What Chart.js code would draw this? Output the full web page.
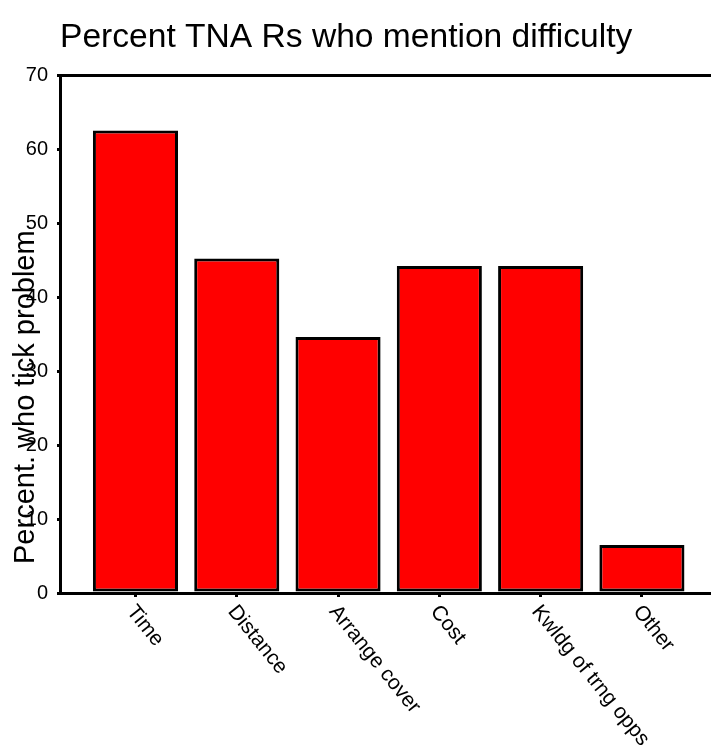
<!DOCTYPE html>
<html>
<head>
<meta charset="utf-8">
<script src="https://cdn.jsdelivr.net/npm/chart.js@4/dist/chart.umd.min.js"></script>
<style>
    html, body { margin: 0; padding: 0; background: #fff; }
    #wrap { width: 711px; height: 749px; }
</style>
</head>
<body>
<div id="wrap"><canvas id="difficultyChart"></canvas></div>
<script>
const categories = ['Time', 'Distance', 'Arrange cover', 'Cost', 'Kwldg of trng opps', 'Other']
const percentValues = [62.5, 45.2, 34.6, 44.2, 44.2, 6.5]
const yTicks = [0, 10, 20, 30, 40, 50, 60, 70]

const chartTitle = 'Percent TNA Rs who mention difficulty'
const yAxisTitle = 'Percent. who tick problem'

const FONT = '"Liberation Sans", Arial, sans-serif'

// slanted category labels, reading down-right from each tick
const slantLabels = {
    id: 'slantLabels',
    afterDraw(chart) {
        const scale = chart.scales.x
        const ctx = chart.ctx
        ctx.save()
        ctx.fillStyle = '#000'
        ctx.font = '21px ' + FONT
        ctx.textAlign = 'left'
        ctx.textBaseline = 'middle'
        categories.forEach((label, i) => {
            const x = scale.getPixelForValue(i)
            ctx.save()
            ctx.translate(x - 5, scale.top + 15)
            ctx.rotate(51 * Math.PI / 180)
            ctx.fillText(label, 0, 0)
            ctx.restore()
        })
        ctx.restore()
    }
}

// title is left-ish over the plot, y title sits low over the tick labels
const titles = {
    id: 'titles',
    afterDraw(chart) {
        const ctx = chart.ctx
        const area = chart.chartArea
        ctx.save()
        ctx.fillStyle = '#000'
        ctx.textAlign = 'left'
        ctx.textBaseline = 'alphabetic'

        ctx.font = '33.6px ' + FONT
        ctx.fillText(chartTitle, area.left, 47)

        ctx.font = '29px ' + FONT
        ctx.translate(34, area.bottom - 29)
        ctx.rotate(-Math.PI / 2)
        ctx.fillText(yAxisTitle, 0, 0)
        ctx.restore()
    }
}

const ctx = document.getElementById('difficultyChart').getContext('2d')
new Chart(ctx, {
    type: 'bar',
    data: {
        datasets: [{
            data: categories.map((c, i) => ({ x: i, y: percentValues[i] })),
            backgroundColor: '#ff0000',
            borderColor: '#000',
            borderWidth: 3,
            borderSkipped: false,
            categoryPercentage: 1,
            barPercentage: 0.84
        }]
    },
    options: {
        responsive: true,
        maintainAspectRatio: false,
        animation: false,
        layout: { padding: { top: 75, left: 0, right: 0, bottom: 0 } },
        plugins: {
            legend: { display: false },
            tooltip: { enabled: false },
            title: { display: false }
        },
        scales: {
            x: {
                type: 'linear',
                position: 'bottom',
                offset: false,
                min: -0.745,
                max: 5.682,
                afterFit(scale) { scale.height = 156 },
                afterBuildTicks(scale) { scale.ticks = categories.map((c, i) => ({ value: i })) },
                ticks: { display: false },
                grid: { offset: false, drawOnChartArea: false, tickLength: 4, lineWidth: 3, color: '#000' },
                border: { color: '#000', width: 3 }
            },
            x2: {
                type: 'linear',
                position: 'top',
                afterFit(scale) { scale.height = 0 },
                ticks: { display: false },
                grid: { display: false },
                border: { color: '#000', width: 3 }
            },
            y: {
                min: 0,
                max: 70,
                afterFit(scale) { scale.width = 60 },
                afterBuildTicks(scale) { scale.ticks = yTicks.map(v => ({ value: v })) },
                ticks: {
                    color: '#000',
                    padding: 9,
                    font: { family: FONT, size: 20 }
                },
                grid: { drawOnChartArea: false, tickLength: 3, lineWidth: 3, color: '#000' },
                border: { color: '#000', width: 3 }
            }
        }
    },
    plugins: [titles, slantLabels]
})
</script>
</body>
</html>
